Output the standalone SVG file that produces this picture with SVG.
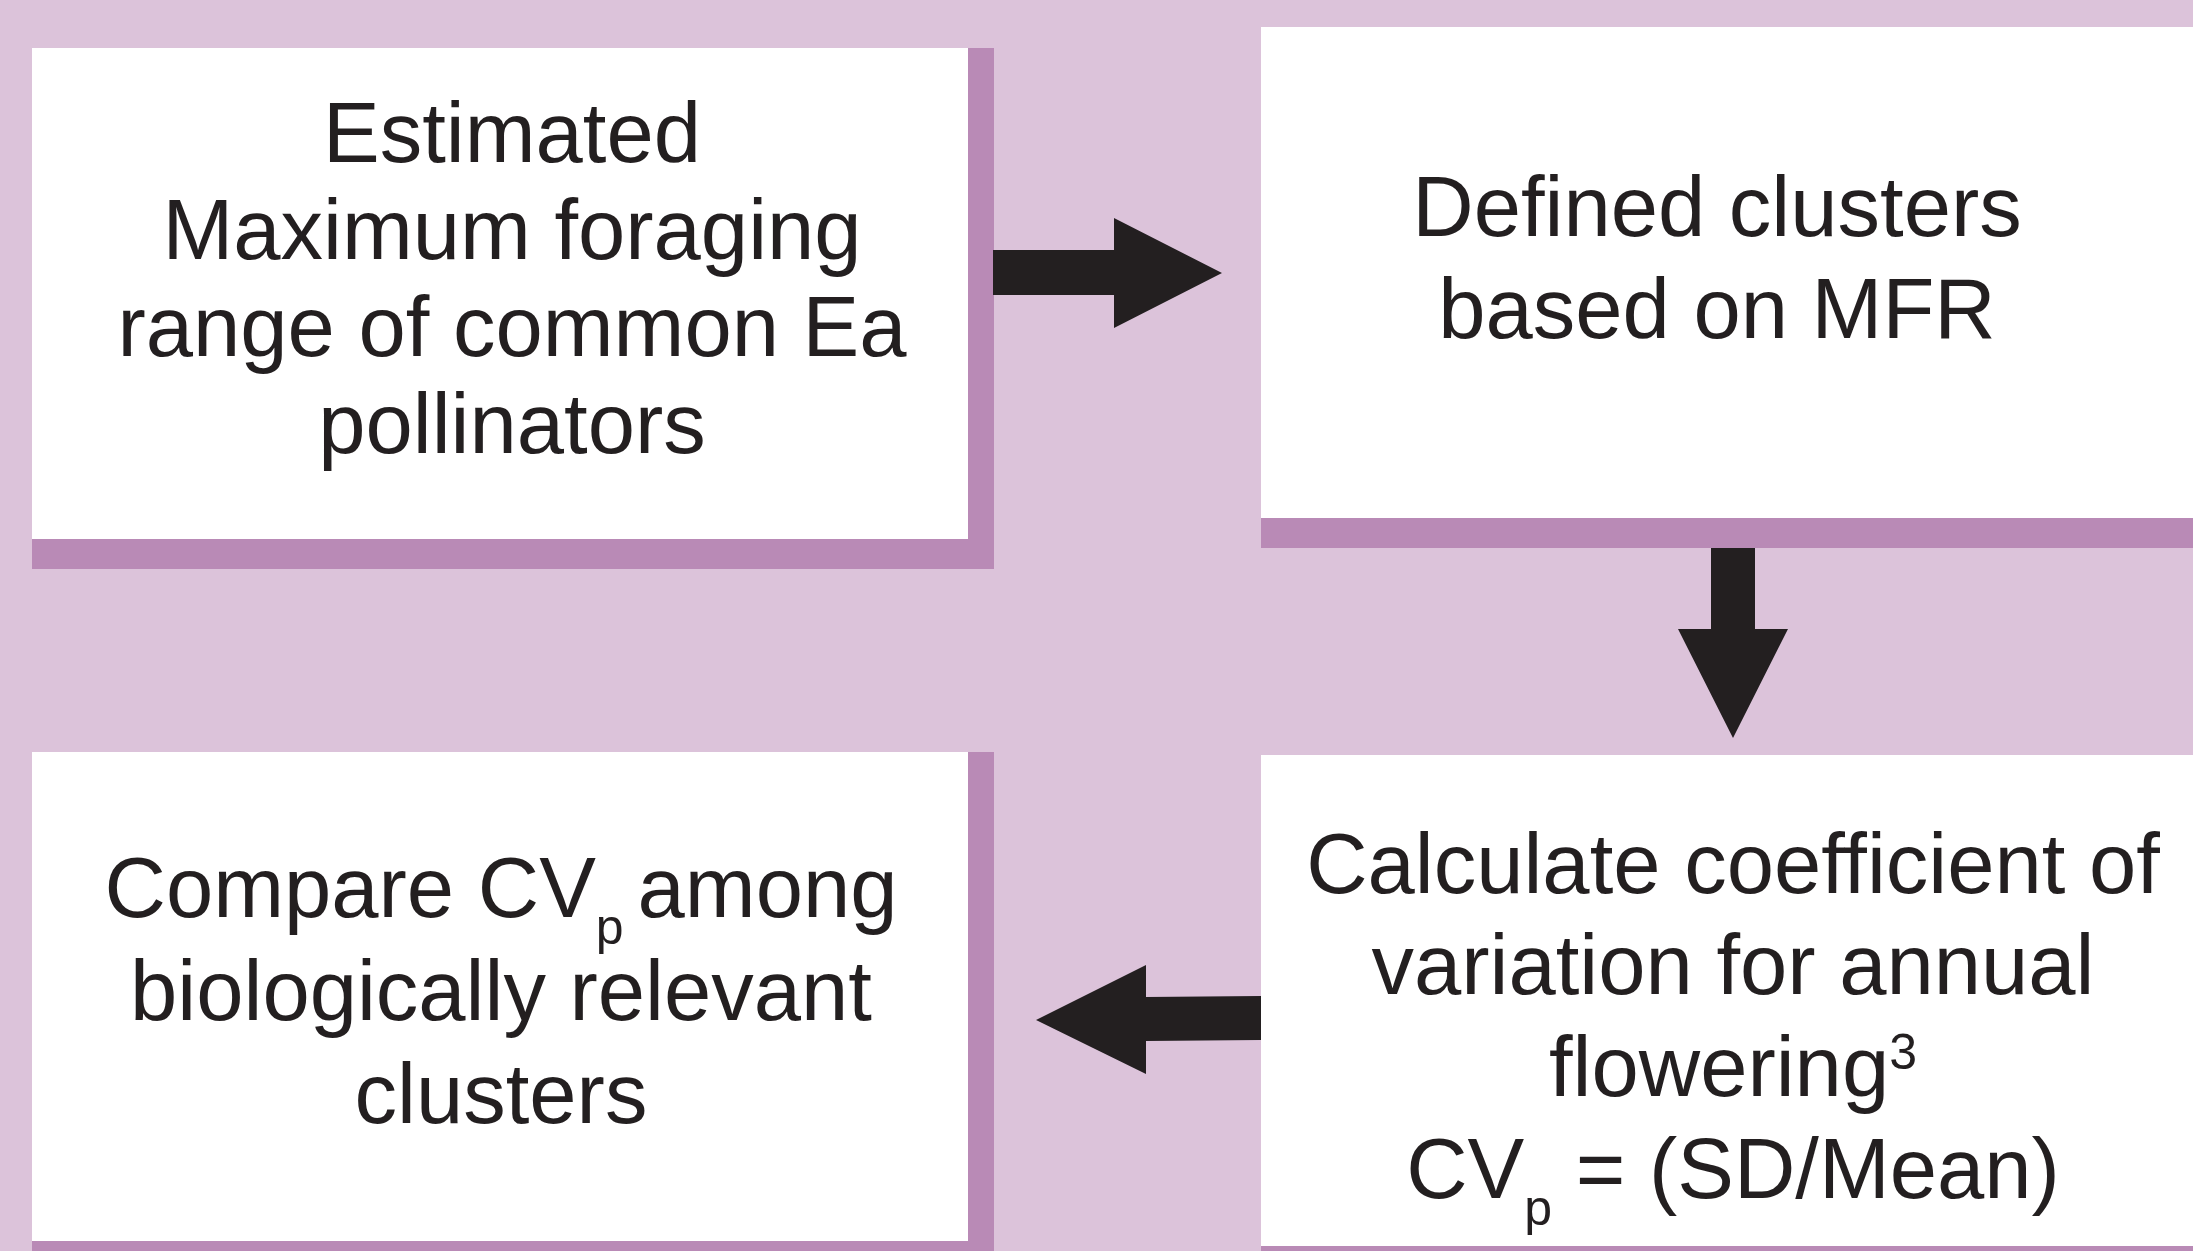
<svg xmlns="http://www.w3.org/2000/svg" width="2193" height="1251" viewBox="0 0 2193 1251">
  <style>
    .bg { fill: #dcc3da; }
    .shadow { fill: #b98ab6; }
    .box { fill: #ffffff; }
    .lbl { font-family: "Liberation Sans", Arial, Helvetica, sans-serif; font-size: 85px; fill: #231f20; text-anchor: middle; }
    .small { font-size: 50px; }
    .arrow { fill: #231f20; }
  </style>
  <rect class="bg" x="0" y="0" width="2193" height="1251"/>

  <g id="node-estimated">
    <rect class="shadow" x="32" y="48" width="962" height="521"/>
    <rect class="box" x="32" y="48" width="936" height="491"/>
    <text class="lbl" x="512" y="162">Estimated</text>
    <text class="lbl" x="512" y="259">Maximum foraging</text>
    <text class="lbl" x="512" y="356">range of common Ea</text>
    <text class="lbl" x="512" y="453">pollinators</text>
  </g>

  <g id="node-defined-clusters">
    <rect class="shadow" x="1261" y="27" width="932" height="521"/>
    <rect class="box" x="1261" y="27" width="932" height="491"/>
    <text class="lbl" x="1717" y="236">Defined clusters</text>
    <text class="lbl" x="1717" y="338">based on MFR</text>
  </g>

  <g id="node-calculate-cv">
    <rect class="shadow" x="1261" y="755" width="932" height="496"/>
    <rect class="box" x="1261" y="755" width="932" height="491"/>
    <text class="lbl" x="1733" y="893">Calculate coefficient of</text>
    <text class="lbl" x="1733" y="994">variation for annual</text>
    <text class="lbl" x="1733" y="1096">flowering<tspan class="small" dy="-27">3</tspan></text>
    <text class="lbl" x="1733" y="1198">CV<tspan class="small" dy="27">p</tspan><tspan dy="-27"> = (SD/Mean)</tspan></text>
  </g>

  <g id="node-compare-cv">
    <rect class="shadow" x="32" y="752" width="962" height="499"/>
    <rect class="box" x="32" y="752" width="936" height="489"/>
    <text class="lbl" x="501" y="917">Compare CV<tspan class="small" dy="27">p </tspan><tspan dy="-27">among</tspan></text>
    <text class="lbl" x="501" y="1020">biologically relevant</text>
    <text class="lbl" x="501" y="1123">clusters</text>
  </g>

  <g id="connectors">
    <polygon class="arrow" points="993,250 1114,250 1114,218 1222,273 1114,328 1114,295 993,295"/>
    <polygon class="arrow" points="1711,548 1755,548 1755,629 1788,629 1733,738 1678,629 1711,629"/>
    <polygon class="arrow" points="1261,996 1146,997 1146,965 1036,1020 1146,1074 1146,1041 1261,1040"/>
  </g>
</svg>
